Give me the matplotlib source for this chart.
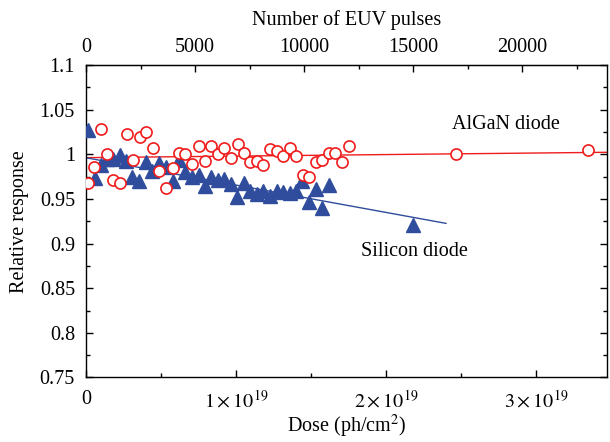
import matplotlib
matplotlib.use("Agg")
import matplotlib.pyplot as plt
import numpy as np
from matplotlib.ticker import FixedLocator, FuncFormatter, MultipleLocator

plt.rcParams['font.family'] = ['Liberation Serif', 'DejaVu Serif']
plt.rcParams['mathtext.fontset'] = 'stix'

# ---- data (dose in units of 1e19 ph/cm^2) ----
algan_dose = [0.011, 0.053, 0.097, 0.140, 0.181, 0.227, 0.270, 0.315, 0.357, 0.400,
              0.445, 0.487, 0.532, 0.578, 0.618, 0.662, 0.708, 0.750, 0.792, 0.835,
              0.878, 0.923, 0.964, 1.010, 1.053, 1.095, 1.140, 1.183, 1.225, 1.270,
              1.315, 1.357, 1.402, 1.445, 1.488, 1.530, 1.573, 1.617, 1.661, 1.708,
              1.752, 2.467, 3.345]
algan_resp = [0.9675, 0.9857, 1.0278, 1.0003, 0.9708, 0.9683, 1.0231, 0.9937, 1.0195, 1.0251,
              1.0072, 0.9816, 0.9627, 0.9850, 1.0011, 1.0002, 0.9892, 1.0097, 0.9928, 1.0090,
              1.0003, 1.0075, 0.9961, 1.0111, 1.0017, 0.9913, 0.9928, 0.9878, 1.0061, 1.0033,
              0.9983, 1.0072, 0.9980, 0.9770, 0.9740, 0.9913, 0.9933, 1.0011, 1.0011, 0.9909,
              1.0089, 1.0002, 1.0053]

si_dose = [0.010, 0.058, 0.103, 0.140, 0.183, 0.227, 0.269, 0.309, 0.353, 0.400,
           0.442, 0.487, 0.530, 0.578, 0.620, 0.662, 0.707, 0.750, 0.792, 0.835,
           0.877, 0.921, 0.964, 1.009, 1.051, 1.095, 1.137, 1.182, 1.227, 1.270,
           1.313, 1.357, 1.401, 1.443, 1.487, 1.530, 1.575, 1.617, 2.183]
si_resp = [1.0276, 0.9733, 0.9875, 0.9944, 0.9950, 0.9994, 0.9920, 0.9746, 0.9697, 0.9911,
           0.9808, 0.9898, 0.9861, 0.9697, 0.9940, 0.9797, 0.9750, 0.9768, 0.9641, 0.9744,
           0.9713, 0.9722, 0.9668, 0.9523, 0.9675, 0.9588, 0.9560, 0.9591, 0.9527, 0.9587,
           0.9582, 0.9568, 0.9588, 0.9699, 0.9460, 0.9608, 0.9399, 0.9651, 0.9212]

# linear fit lines (end points)
algan_fit_dose = [0.0, 3.473]
algan_fit_resp = [0.9962, 1.0022]
si_fit_dose = [0.0, 2.40]
si_fit_resp = [0.9961, 0.9226]

PULSES_PER_UNIT = 6875.0  # pulses per 1e19 ph/cm^2

x_major = [0, 1, 2, 3]
x_labels = ['0', r'$1\times10^{19}$', r'$2\times10^{19}$', r'$3\times10^{19}$']
top_major = [0, 5000, 10000, 15000, 20000]

RED = '#f01c1c'
BLUE = '#2f4d9c'
FS = 14.5

fig = plt.figure(figsize=(6.10, 4.42), dpi=100)
ax = fig.add_axes([0.141, 0.146, 0.854, 0.707])

ax.plot(algan_fit_dose, algan_fit_resp, color=RED, lw=1.0, zorder=2)
ax.plot(si_fit_dose, si_fit_resp, color=BLUE, lw=1.0, zorder=2)
ax.plot(si_dose, si_resp, linestyle='none', marker='^', ms=9.5, color=BLUE,
        markeredgecolor=BLUE, zorder=3)
ax.plot(algan_dose, algan_resp, linestyle='none', marker='o', ms=8, mfc='white',
        mec=RED, mew=1.2, zorder=4)

ax.set_xlim(0, 3.473)
ax.set_ylim(0.75, 1.1)

ax.xaxis.set_major_locator(FixedLocator(x_major))
ax.xaxis.set_major_formatter(FuncFormatter(lambda v, p: x_labels[int(round(v))] if 0 <= round(v) < len(x_labels) else ''))
ax.xaxis.set_minor_locator(MultipleLocator(0.5))
ax.yaxis.set_major_locator(MultipleLocator(0.05))
ax.yaxis.set_minor_locator(MultipleLocator(0.025))
ax.yaxis.set_major_formatter(FuncFormatter(lambda v, p: ('%.2f' % v).rstrip('0').rstrip('.')))

ax.tick_params(axis='both', which='both', direction='in', labelsize=FS, right=True, top=False)
ax.tick_params(axis='both', which='major', length=5, width=1)
ax.tick_params(axis='both', which='minor', length=3, width=1)
ax.tick_params(axis='x', pad=9)
ax.tick_params(axis='y', pad=8)

for s in ax.spines.values():
    s.set_linewidth(1.0)

sec = ax.secondary_xaxis('top', functions=(lambda d: d * PULSES_PER_UNIT,
                                           lambda p: p / PULSES_PER_UNIT))
sec.xaxis.set_major_locator(FixedLocator(top_major))
sec.xaxis.set_minor_locator(MultipleLocator(2500))
sec.tick_params(axis='x', which='both', direction='in', labelsize=FS, pad=6)
sec.tick_params(axis='x', which='major', length=5, width=1)
sec.tick_params(axis='x', which='minor', length=3, width=1)
sec.set_xlabel('Number of EUV pulses', fontsize=FS, labelpad=9)

ax.set_xlabel(r'Dose (ph/cm$^2$)', fontsize=FS, labelpad=1)
ax.set_ylabel('Relative response', fontsize=FS, labelpad=8)

ax.text(2.8, 1.033, 'AlGaN diode', fontsize=FS, ha='center', va='center')
ax.text(2.19, 0.891, 'Silicon diode', fontsize=FS, ha='center', va='center')

fig.savefig('out.png', dpi=100)
